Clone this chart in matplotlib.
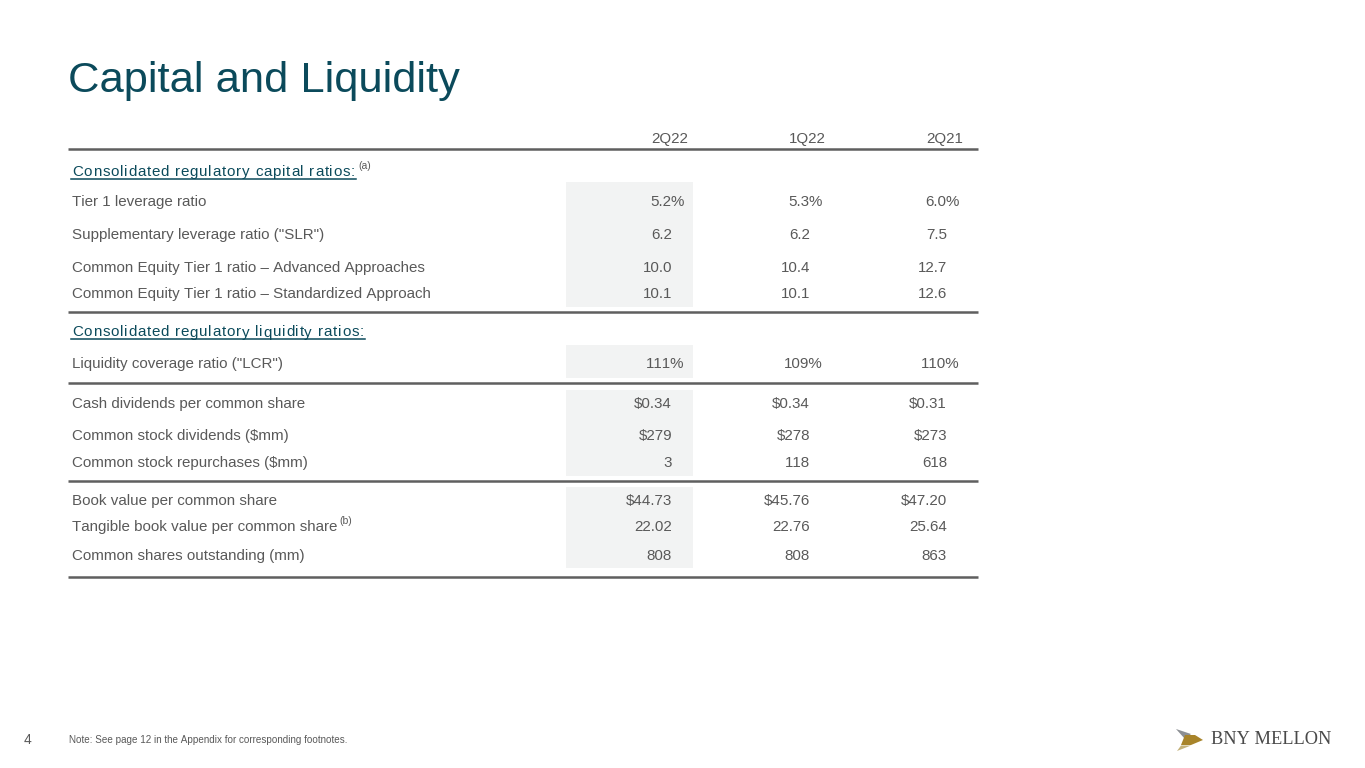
import matplotlib.pyplot as plt
from matplotlib.patches import Rectangle, Polygon
from matplotlib import ft2font, font_manager
from matplotlib.font_manager import FontProperties

# column headers and table rows
periods = ["2Q22", "1Q22", "2Q21"]

capital_labels = ["Tier 1 leverage ratio",
                  'Supplementary leverage ratio ("SLR")',
                  "Common Equity Tier 1 ratio \u2013 Advanced Approaches",
                  "Common Equity Tier 1 ratio \u2013 Standardized Approach"]
capital_2q22 = ["5.2%", "6.2", "10.0", "10.1"]
capital_1q22 = ["5.3%", "6.2", "10.4", "10.1"]
capital_2q21 = ["6.0%", "7.5", "12.7", "12.6"]

liquidity_labels = ['Liquidity coverage ratio ("LCR")']
liquidity_2q22 = ["111%"]
liquidity_1q22 = ["109%"]
liquidity_2q21 = ["110%"]

dividend_labels = ["Cash dividends per common share",
                   "Common stock dividends ($mm)",
                   "Common stock repurchases ($mm)"]
dividend_2q22 = ["$0.34", "$279", "3"]
dividend_1q22 = ["$0.34", "$278", "118"]
dividend_2q21 = ["$0.31", "$273", "618"]

book_labels = ["Book value per common share",
               "Tangible book value per common share",
               "Common shares outstanding (mm)"]
book_2q22 = ["$44.73", "22.02", "808"]
book_1q22 = ["$45.76", "22.76", "808"]
book_2q21 = ["$47.20", "25.64", "863"]

TEAL = "#0b4a5b"
GRAY = "#595959"
LINE = "#5f5f5f"
SHADE = "#f2f3f3"
plt.rcParams['font.family'] = ['Liberation Sans', 'DejaVu Sans']
plt.rcParams['text.kerning_factor'] = 20   # effectively no kerning, like the slide

fig = plt.figure(figsize=(13.65, 7.68), dpi=100)
ax = fig.add_axes([0, 0, 1, 1])
ax.set_xlim(0, 1365)
ax.set_ylim(768, 0)
ax.axis("off")
renderer = fig.canvas.get_renderer()

ax.text(68, 81, "Capital and Liquidity", fontsize=31.3, color=TEAL, va="center")

col_right = [672, 810, 947]
label_x = 72
fs = 10.9

# glyph advances for letter-spaced headings
_path = font_manager.findfont(FontProperties(family='Liberation Sans'))
_ft = ft2font.FT2Font(_path, hinting_factor=1)
_flags = ft2font.LoadFlags.NO_HINTING if hasattr(ft2font, "LoadFlags") else ft2font.LOAD_NO_HINTING


def advance(ch, size):
    _ft.set_size(size, 100)
    g = _ft.load_char(ord(ch), flags=_flags)
    return g.linearHoriAdvance / 65536


def right_edge(t):
    bb = t.get_window_extent(renderer=renderer).transformed(ax.transData.inverted())
    return bb.x1


for x, p in zip([688, 826, 963], periods):
    ax.text(x, 139, p, fontsize=fs, color=GRAY, ha="right", va="center")


def hline(y):
    ax.plot([68, 978], [y, y], color=LINE, lw=1.8, solid_capstyle="butt")


def shade(y0, y1):
    ax.add_patch(Rectangle((566, y0), 127, y1 - y0, facecolor=SHADE, edgecolor="none", zorder=0))


def section(base, text, sup=None, spacing=0.85):
    x = label_x
    for ch in text:
        if ch != " ":
            ax.text(x, base, ch, fontsize=fs, color=TEAL, va="baseline", ha="left")
        x += advance(ch, fs) + spacing
    x -= spacing
    ax.plot([label_x - 1, x + 1], [base + 2.5, base + 2.5], color=TEAL, lw=1.1)
    if sup:
        ax.text(x + 3, base - 10, sup, fontsize=7.5, color=GRAY, va="center")


def value_text(x, y, s):
    # percent signs hang past the number column
    if s.endswith("%"):
        x = x + advance("%", fs) - 0.8
    ax.text(x, y, s, fontsize=fs, color=GRAY, ha="right", va="center")


def rows(ys, labels, c1, c2, c3, sups=None):
    for i, (y, lab) in enumerate(zip(ys, labels)):
        t = ax.text(label_x, y, lab, fontsize=fs, color=GRAY, va="center")
        if sups and sups[i]:
            ax.text(right_edge(t) + 1.5, y - 6, sups[i], fontsize=7.5, color=GRAY, va="center")
        for x, col in zip(col_right, [c1, c2, c3]):
            value_text(x, y, col[i])


hline(149)
section(176, "Consolidated regulatory capital ratios:", "(a)")
shade(182, 307)
rows([202, 235, 268, 294], capital_labels, capital_2q22, capital_1q22, capital_2q21)
hline(312)

section(336.5, "Consolidated regulatory liquidity ratios:")
shade(345, 378)
rows([364], liquidity_labels, liquidity_2q22, liquidity_1q22, liquidity_2q21)
hline(383)

shade(390, 476)
rows([404, 436, 463], dividend_labels, dividend_2q22, dividend_1q22, dividend_2q21)
hline(481)

shade(487, 568)
rows([501, 527, 556], book_labels, book_2q22, book_1q22, book_2q21, sups=[None, "(b)", None])
hline(577)

# footer
ax.text(24, 740, "4", fontsize=10, color=GRAY, va="center")
ax.text(69, 740, "Note: See page 12 in the Appendix for corresponding footnotes.",
        fontsize=7.1, color=GRAY, va="center")

# logo
ax.add_patch(Polygon([(1176, 729), (1191, 734), (1185, 739)], closed=True,
                     facecolor="#8c8f94", edgecolor="none"))
ax.add_patch(Polygon([(1185, 735), (1195, 735), (1203, 740), (1191, 745), (1181, 745)], closed=True,
                     facecolor="#a8842a", edgecolor="none"))
ax.add_patch(Polygon([(1181, 745.5), (1191, 745.5), (1177, 751)], closed=True,
                     facecolor="#c4b27a", edgecolor="none"))
ax.text(1211, 740, "BNY MELLON", fontsize=13.2, color="#4a4a4a", va="center",
        family=["Liberation Serif", "DejaVu Serif"])

fig.savefig("out.png", dpi=100)
